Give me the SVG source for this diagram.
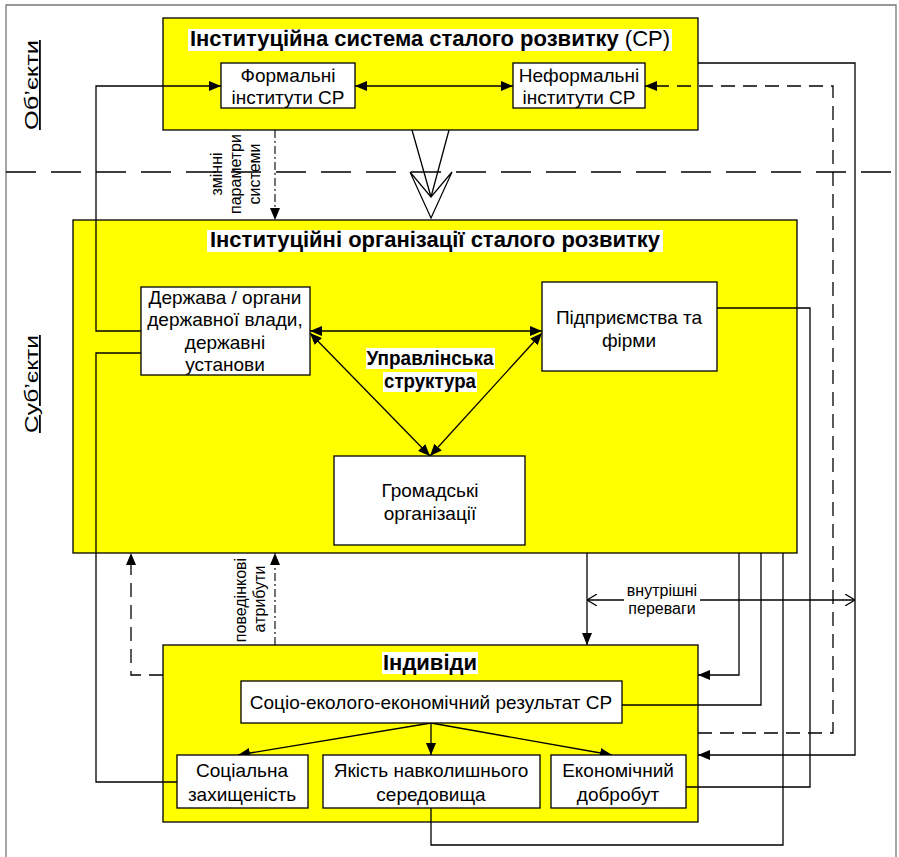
<svg xmlns="http://www.w3.org/2000/svg" width="899" height="857" viewBox="0 0 899 857">
<style>
.box{fill:#ffff00;stroke:#000;stroke-width:1.3}
.wb{fill:#fff;stroke:#000;stroke-width:1.3}
.t{font-family:"Liberation Sans",Arial,sans-serif;font-size:19px;fill:#000;text-anchor:middle}
.h{font-family:"Liberation Sans",Arial,sans-serif;font-size:22px;font-weight:bold;fill:#000;text-anchor:middle}
.m{font-family:"Liberation Sans",Arial,sans-serif;font-size:20px;font-weight:bold;fill:#000;text-anchor:middle}
.s{font-family:"Liberation Sans",Arial,sans-serif;font-size:16px;fill:#000;text-anchor:middle}
.side{font-family:"Liberation Sans",Arial,sans-serif;font-size:18px;fill:#000;text-anchor:middle;text-decoration:underline}
.hl{fill:#fff}
.ln{fill:none;stroke:#000;stroke-width:1.3}
.dash{fill:none;stroke:#000;stroke-width:1.3;stroke-dasharray:14 8}
.dd{fill:none;stroke:#000;stroke-width:1.1;stroke-dasharray:8 3 2 3}
</style>
<defs>
<marker id="a" viewBox="0 0 12 10" refX="12" refY="5" markerWidth="12" markerHeight="10" markerUnits="userSpaceOnUse" orient="auto-start-reverse">
<path d="M0,0 L12,5 L0,10 z" fill="#000"/>
</marker>
<marker id="o" viewBox="0 0 10 12" refX="10" refY="6" markerWidth="10" markerHeight="12" markerUnits="userSpaceOnUse" orient="auto-start-reverse">
<path d="M0,0 L10,6 L0,12" fill="none" stroke="#000" stroke-width="1.2"/>
</marker>
</defs>
<rect width="899" height="857" fill="#fff"/>
<g id="page-frame">
<path d="M6,857 V5 H896 V857" fill="none" stroke="#777" stroke-width="1.3"/>
<path d="M6,172 H899" fill="none" stroke="#000" stroke-width="1.5" stroke-dasharray="30 15"/>
<text class="side" transform="translate(38,85) rotate(-90)" textLength="90" lengthAdjust="spacingAndGlyphs">Об’єкти</text>
<text class="side" transform="translate(38,384) rotate(-90)" textLength="98" lengthAdjust="spacingAndGlyphs">Суб’єкти</text>
</g>
<g id="top-system">
<rect class="box" x="163" y="18" width="535" height="112"/>
<rect class="hl" x="188" y="29" width="484" height="22"/>
<text class="h" x="430" y="46">Інституційна система сталого розвитку <tspan font-weight="normal">(СР)</tspan></text>
</g>
<g id="formal">
<rect class="wb" x="221" y="63" width="134" height="45"/>
<text class="t" x="288" y="82">Формальні</text>
<text class="t" x="288" y="104">інститути СР</text>
</g>
<g id="informal">
<rect class="wb" x="513" y="63" width="132" height="45"/>
<text class="t" x="579" y="82">Неформальні</text>
<text class="t" x="579" y="104">інститути СР</text>
</g>
<g id="organizations">
<rect class="box" x="73" y="220" width="724" height="333"/>
<rect class="hl" x="207" y="230" width="456" height="22"/>
<text class="h" x="435" y="247">Інституційні організації сталого розвитку</text>
</g>
<g id="individuals">
<rect class="box" x="163" y="645" width="535" height="177"/>
<rect class="hl" x="382" y="652" width="96" height="22"/>
<text class="h" x="430" y="670">Індивіди</text>
</g>
<g id="connectors">
<path class="ln" d="M141,331 H96 V86 H221" marker-end="url(#a)"/>
<path class="ln" d="M355,86 H513" marker-start="url(#a)" marker-end="url(#a)"/>
<path class="ln" d="M698,63 H855 V755 H698" marker-end="url(#a)"/>
<path class="dash" d="M698,733 H833 V86 H645" marker-end="url(#a)"/>
<path class="dd" d="M275,130 V220" marker-end="url(#a)"/>
<path class="ln" d="M412,130 L431,197 L449,130"/>
<path d="M410,172 L431,218 L452,172 L431,197 z" fill="#fff" stroke="#000" stroke-width="1.2"/>
<path class="ln" d="M310,331 H542" marker-start="url(#a)" marker-end="url(#a)"/>
<path class="ln" d="M310,333 L430,456" marker-start="url(#a)" marker-end="url(#a)"/>
<path class="ln" d="M542,333 L430,456" marker-start="url(#a)" marker-end="url(#a)"/>
<path class="ln" d="M141,353 H96 V782 H177"/>
<path class="ln" d="M717,308 H810 V787 H686"/>
<path class="ln" d="M587,553 V645" marker-end="url(#a)"/>
<path class="ln" d="M587,600 H855" marker-start="url(#o)" marker-end="url(#o)"/>
<path class="ln" d="M739,553 V675 H698" marker-end="url(#a)"/>
<path class="ln" d="M622,705 H761 V553"/>
<path class="ln" d="M431,808 V845 H783 V553"/>
<path class="dd" d="M275,645 V553" marker-end="url(#a)"/>
<path class="dash" d="M163,675 H131 V553" stroke-dasharray="10 7" marker-end="url(#a)"/>
<path class="ln" d="M431,723 L238,755" marker-end="url(#a)"/>
<path class="ln" d="M431,723 V755" marker-end="url(#a)"/>
<path class="ln" d="M431,723 L612,755" marker-end="url(#a)"/>
</g>
<g id="labels">
<text class="s" transform="translate(222,174) rotate(-90)">змінні</text>
<text class="s" transform="translate(241,174) rotate(-90)">параметри</text>
<text class="s" transform="translate(260,174) rotate(-90)">системи</text>
<text class="s" transform="translate(246,600) rotate(-90)">поведінкові</text>
<text class="s" transform="translate(265,599) rotate(-90)">атрибути</text>
<rect class="hl" x="624" y="581" width="76" height="36"/>
<text class="s" x="662" y="596">внутрішні</text>
<text class="s" x="662" y="614">переваги</text>
</g>
<g id="state">
<rect class="wb" x="141" y="287" width="169" height="88"/>
<text class="t" x="225" y="304">Держава / органи</text>
<text class="t" x="225" y="326">державної влади,</text>
<text class="t" x="225" y="349">державні</text>
<text class="t" x="225" y="371">установи</text>
</g>
<g id="enterprises">
<rect class="wb" x="542" y="282" width="175" height="89"/>
<text class="t" x="629" y="324">Підприємства та</text>
<text class="t" x="629" y="347">фірми</text>
</g>
<g id="public-orgs">
<rect class="wb" x="334" y="456" width="191" height="89"/>
<text class="t" x="430" y="497">Громадські</text>
<text class="t" x="430" y="520">організації</text>
</g>
<g id="management">
<rect class="hl" x="366" y="348" width="129" height="21"/>
<rect class="hl" x="383" y="372" width="94" height="20"/>
<text class="m" x="430" y="365" textLength="127" lengthAdjust="spacingAndGlyphs">Управлінська</text>
<text class="m" x="430" y="388" textLength="92" lengthAdjust="spacingAndGlyphs">структура</text>
</g>
<g id="result">
<rect class="wb" x="241" y="681" width="381" height="42"/>
<text class="t" x="431" y="709">Соціо-еколого-економічний результат СР</text>
</g>
<g id="social">
<rect class="wb" x="177" y="755" width="131" height="53"/>
<text class="t" x="242" y="777">Соціальна</text>
<text class="t" x="242" y="801">захищеність</text>
</g>
<g id="environment">
<rect class="wb" x="323" y="755" width="217" height="53"/>
<text class="t" x="431" y="777">Якість навколишнього</text>
<text class="t" x="431" y="801">середовища</text>
</g>
<g id="economic">
<rect class="wb" x="551" y="755" width="135" height="53"/>
<text class="t" x="618" y="777">Економічний</text>
<text class="t" x="618" y="801">добробут</text>
</g>
</svg>
